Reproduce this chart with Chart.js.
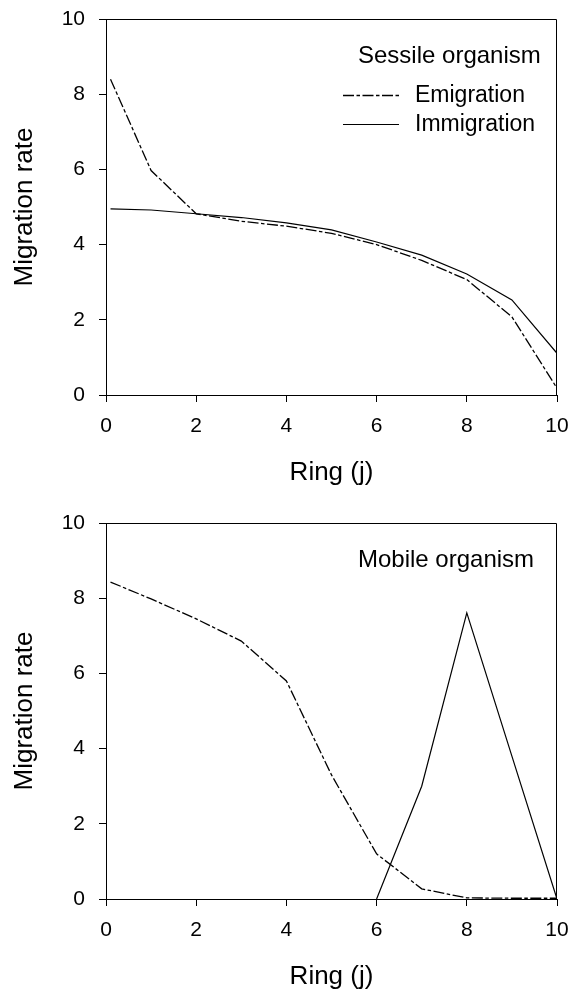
<!DOCTYPE html>
<html><head><meta charset="utf-8">
<script src="https://cdn.jsdelivr.net/npm/chart.js@4.4.0/dist/chart.umd.min.js"></script>
<style>
html,body{margin:0;padding:0;background:#fff;}
body{width:571px;height:993px;position:relative;overflow:hidden;}
canvas{position:absolute;left:0;}
#c1{top:0;}
#c2{top:504px;}
</style></head><body>
<canvas id="c1" width="571" height="489"></canvas>
<canvas id="c2" width="571" height="489"></canvas>
<script>
// ---- data ----
const panelTitles = ['Sessile organism', 'Mobile organism'];
const seriesNames = ['Emigration', 'Immigration'];
const xTitle = 'Ring (j)';
const yTitle = 'Migration rate';
const axisMin = 0, axisMax = 10, tickStep = 2;

const sessileEmigRings = [0.1, 1, 2, 3, 4, 5, 6, 7, 8, 9, 10];
const sessileEmigration = [8.4, 5.97, 4.82, 4.62, 4.49, 4.3, 4.0, 3.58, 3.07, 2.08, 0.18];
const sessileImmigRings = [0.1, 1, 2, 3, 4, 5, 6, 7, 8, 9, 10];
const sessileImmigration = [4.95, 4.92, 4.82, 4.72, 4.58, 4.39, 4.07, 3.72, 3.22, 2.53, 1.11];

const mobileEmigRings = [0.1, 1, 2, 3, 4, 5, 6, 7, 8, 9, 10];
const mobileEmigration = [8.43, 7.98, 7.45, 6.86, 5.8, 3.3, 1.2, 0.27, 0.03, 0.02, 0.02];
const mobileImmigRings = [6, 7, 8, 9, 10];
const mobileImmigration = [0, 3.0, 7.61, 3.8, 0];

// ---- style ----
const FONT = '"Liberation Sans", Arial, sans-serif';
const DASH = [11, 2.5, 3.5, 2.5];
Chart.defaults.font.family = FONT;
Chart.defaults.color = '#000';

function pts(xs, ys) { return xs.map((x, i) => ({x: x, y: ys[i]})); }

function noPad(s) {
  s.paddingTop = 0; s.paddingBottom = 0; s.paddingLeft = 0; s.paddingRight = 0;
}

const annotPlugin = {
  id: 'annot',
  afterDatasetsDraw(chart, args, o) {
    const {ctx, chartArea: a} = chart;
    ctx.save();
    ctx.strokeStyle = '#000';
    ctx.lineWidth = 1;
    ctx.setLineDash([]);
    ctx.beginPath();
    ctx.moveTo(Math.round(a.left), Math.round(a.top) + 0.5);
    ctx.lineTo(Math.round(a.right) - 0.5, Math.round(a.top) + 0.5);
    ctx.lineTo(Math.round(a.right) - 0.5, Math.round(a.bottom) + 1);
    ctx.stroke();

    ctx.fillStyle = '#000';
    ctx.font = '24px ' + FONT;
    ctx.textAlign = 'left';
    ctx.textBaseline = 'alphabetic';
    ctx.fillText(o.title, a.left + 252, a.top + 44);

    if (o.legend) {
      ctx.font = '23px ' + FONT;
      const ds = chart.data.datasets;
      ds.forEach((d, i) => {
        const y = Math.round(a.top + 76 + i * 29) + 0.5;
        ctx.save();
        ctx.lineWidth = d.borderWidth;
        ctx.setLineDash(d.borderDash || []);
        ctx.beginPath();
        ctx.moveTo(a.left + 237, y);
        ctx.lineTo(a.left + 293, y);
        ctx.stroke();
        ctx.restore();
        ctx.textBaseline = 'middle';
        ctx.fillText(d.label, a.left + 309, y);
      });
    }
    ctx.restore();
  }
};

function makeChart(id, emX, emY, imX, imY, title, showLegend) {
  return new Chart(document.getElementById(id), {
    type: 'line',
    data: {
      datasets: [
        {label: seriesNames[0], data: pts(emX, emY), borderColor: '#000', borderWidth: 1.3,
         borderDash: DASH, pointRadius: 0, fill: false, tension: 0},
        {label: seriesNames[1], data: pts(imX, imY), borderColor: '#000', borderWidth: 1.2,
         pointRadius: 0, fill: false, tension: 0}
      ]
    },
    options: {
      responsive: false,
      animation: false,
      devicePixelRatio: 1,
      layout: {padding: {top: 19, right: 14, left: 0, bottom: 0}},
      plugins: {
        legend: {display: false},
        tooltip: {enabled: false},
        annot: {title: title, legend: showLegend}
      },
      scales: {
        x: {
          type: 'linear', min: axisMin, max: axisMax,
          afterFit(s) { s.height = 94; noPad(s); },
          ticks: {stepSize: tickStep, padding: 12, font: {size: 21}, color: '#000', maxRotation: 0},
          grid: {drawOnChartArea: false, drawTicks: true, tickLength: 7, color: '#000', tickWidth: 1},
          border: {display: true, color: '#000', width: 1},
          title: {display: true, text: xTitle, font: {size: 26}, color: '#000', padding: {top: 0, bottom: 1}}
        },
        y: {
          type: 'linear', min: axisMin, max: axisMax,
          afterFit(s) { s.width = 106; noPad(s); },
          ticks: {stepSize: tickStep, padding: 14, font: {size: 21}, color: '#000'},
          grid: {drawOnChartArea: false, drawTicks: true, tickLength: 7, color: '#000', tickWidth: 1},
          border: {display: true, color: '#000', width: 1},
          title: {display: true, text: yTitle, font: {size: 26}, color: '#000', padding: {top: 9, bottom: 0}}
        }
      }
    },
    plugins: [annotPlugin]
  });
}

makeChart('c1', sessileEmigRings, sessileEmigration, sessileImmigRings, sessileImmigration, panelTitles[0], true);
makeChart('c2', mobileEmigRings, mobileEmigration, mobileImmigRings, mobileImmigration, panelTitles[1], false);
</script>
</body></html>
